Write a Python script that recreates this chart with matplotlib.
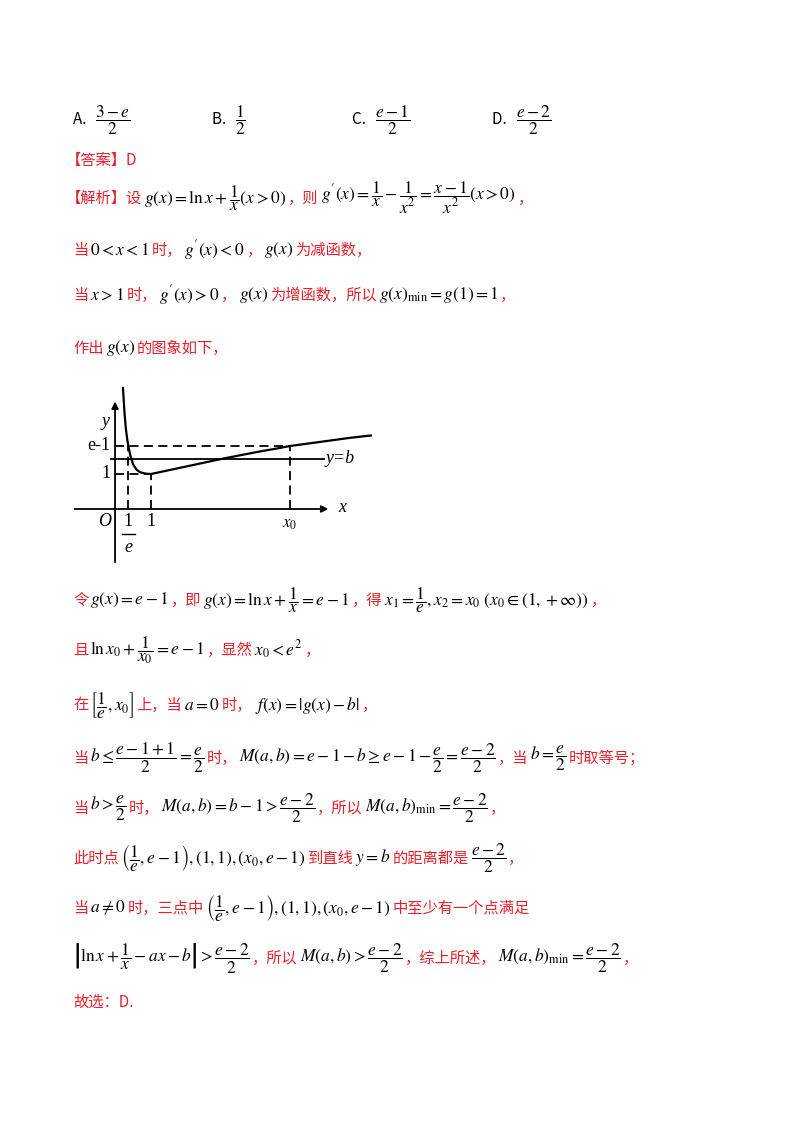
import matplotlib
matplotlib.use("Agg")
import matplotlib.pyplot as plt

plt.rcParams['font.family'] = ['Noto Sans CJK SC', 'DejaVu Sans']
plt.rcParams['mathtext.fontset'] = 'stix'

W, H = 800, 1132
fig = plt.figure(figsize=(8, 11.32), dpi=100)
R = fig.canvas.get_renderer()
RED = '#e8202a'
FS = 11
MFS = 12.5

def line(y, segs, x=73):
    for t, c in segs:
        fs = MFS if t.startswith('$') else FS
        txt = fig.text(x / W, 1 - y / H, t, color=c, fontsize=fs, va='center', ha='left')
        bb = txt.get_window_extent(R)
        x += bb.width + 2

K = 'black'
line(120, [("A.  ", K), (r"$\dfrac{3-e}{2}$", K)], x=73)
line(120, [("B.  ", K), (r"$\dfrac{1}{2}$", K)], x=212)
line(120, [("C.  ", K), (r"$\dfrac{e-1}{2}$", K)], x=352)
line(120, [("D.  ", K), (r"$\dfrac{e-2}{2}$", K)], x=492)
line(160, [("【答案】D", RED)], x=66)
line(198, [("【解析】设", RED), (r"$g(x)=\ln x+\dfrac{1}{x}(x>0)$", K), ("，则", RED),
           (r"$g'(x)=\dfrac{1}{x}-\dfrac{1}{x^2}=\dfrac{x-1}{x^2}(x>0)$", K), ("，", RED)], x=66)
line(250, [("当", RED), (r"$0<x<1$", K), ("时，", RED), (r"$g'(x)<0$", K), ("，", RED),
           (r"$g(x)$", K), ("为减函数，", RED)])
line(295, [("当", RED), (r"$x>1$", K), ("时，", RED), (r"$g'(x)>0$", K), ("，", RED),
           (r"$g(x)$", K), ("为增函数，所以", RED), (r"$g(x)_{\min}=g(1)=1$", K), ("，", RED)])
line(348, [("作出", RED), (r"$g(x)$", K), ("的图象如下，", RED)])
line(600, [("令", RED), (r"$g(x)=e-1$", K), ("，即", RED), (r"$g(x)=\ln x+\dfrac{1}{x}=e-1$", K),
           ("，得", RED), (r"$x_1=\dfrac{1}{e},x_2=x_0\ (x_0\in(1,+\infty))$", K), ("，", RED)])
line(650, [("且", RED), (r"$\ln x_0+\dfrac{1}{x_0}=e-1$", K), ("，显然", RED), (r"$x_0<e^2$", K), ("，", RED)])
line(705, [("在", RED), (r"$\left[\dfrac{1}{e},x_0\right]$", K), ("上，当", RED), (r"$a=0$", K),
           ("时，", RED), (r"$f(x)=|g(x)-b|$", K), ("，", RED)])
line(758, [("当", RED), (r"$b\leq\dfrac{e-1+1}{2}=\dfrac{e}{2}$", K), ("时，", RED),
           (r"$M(a,b)=e-1-b\geq e-1-\dfrac{e}{2}=\dfrac{e-2}{2}$", K), ("，当", RED),
           (r"$b=\dfrac{e}{2}$", K), ("时取等号；", RED)])
line(808, [("当", RED), (r"$b>\dfrac{e}{2}$", K), ("时，", RED),
           (r"$M(a,b)=b-1>\dfrac{e-2}{2}$", K), ("，所以", RED),
           (r"$M(a,b)_{\min}=\dfrac{e-2}{2}$", K), ("，", RED)])
line(858, [("此时点", RED), (r"$\left(\dfrac{1}{e},e-1\right),(1,1),(x_0,e-1)$", K), ("到直线", RED),
           (r"$y=b$", K), ("的距离都是", RED), (r"$\dfrac{e-2}{2}$", K), ("，", RED)])
line(908, [("当", RED), (r"$a\neq 0$", K), ("时，三点中", RED),
           (r"$\left(\dfrac{1}{e},e-1\right),(1,1),(x_0,e-1)$", K), ("中至少有一个点满足", RED)])
line(958, [(r"$\left|\ln x+\dfrac{1}{x}-ax-b\right|>\dfrac{e-2}{2}$", K), ("，所以", RED),
           (r"$M(a,b)>\dfrac{e-2}{2}$", K), ("，综上所述，", RED),
           (r"$M(a,b)_{\min}=\dfrac{e-2}{2}$", K), ("，", RED)])
line(1002, [("故选：D.", RED)])

# ---------- chart ----------
curve_x = [0.22, 0.26, 0.30, 0.34, 0.37, 0.42, 0.50, 0.60, 0.70, 0.85, 1.0, 1.5, 2.0, 2.5, 3.0, 3.5, 4.0, 4.5, 4.86, 5.5, 6.0, 6.5, 7.1]
curve_y = [3.46, 2.80, 2.30, 1.98, 1.80, 1.55, 1.28, 1.12, 1.05, 1.01, 1.00, 1.11, 1.22, 1.33, 1.44, 1.54, 1.64, 1.73, 1.80, 1.89, 1.96, 2.03, 2.10]
x_inv_e, x_one, x_zero = 0.37, 1.0, 4.86
y_em1, y_b, y_one = 1.80, 1.43, 1.0

left, right, bottom_px, top_px = 70, 378, 568.5, 383
ax = fig.add_axes([left / W, 1 - bottom_px / H, (right - left) / W, (bottom_px - top_px) / H])
ax.set_xlim(-1.25, 7.3)
ax.set_ylim(-1.7, 3.6)
ax.axis('off')
lw = 1.3
ax.annotate('', xy=(6.0, 0), xytext=(-1.2, 0),
            arrowprops=dict(arrowstyle='-|>', color='k', lw=lw, mutation_scale=10))
ax.annotate('', xy=(0, 3.15), xytext=(0, -1.6),
            arrowprops=dict(arrowstyle='-|>', color='k', lw=lw, mutation_scale=10))
ax.plot(curve_x, curve_y, color='k', lw=1.6)
ax.plot([-0.1, 5.8], [y_b, y_b], color='k', lw=1.3)
ds = dict(color='k', lw=1.3, ls=(0, (5, 3)))
ax.plot([0, x_zero], [y_em1, y_em1], **ds)
ax.plot([0, x_one], [y_one, y_one], **ds)
ax.plot([x_inv_e, x_inv_e], [0, y_em1], **ds)
ax.plot([x_one, x_one], [0, y_one], **ds)
ax.plot([x_zero, x_zero], [0, y_em1], **ds)
sf = dict(family='Liberation Serif', fontsize=13)
ax.text(-0.15, 2.5, 'y', style='italic', ha='right', va='center', **sf)
ax.text(6.2, 0.05, 'x', style='italic', ha='left', va='center', **sf)
ax.text(-0.12, y_em1, 'e-1', ha='right', va='center', **sf)
ax.text(-0.12, y_one, '1', ha='right', va='center', **sf)
ax.text(-0.12, -0.35, 'O', style='italic', ha='right', va='center', **sf)
ax.text(5.85, y_b, 'y=b', style='italic', ha='left', va='center', **sf)
ax.text(x_one, -0.35, '1', ha='center', va='center', **sf)
ax.text(x_inv_e, -0.35, '1', ha='center', va='center', **sf)
ax.plot([x_inv_e - 0.18, x_inv_e + 0.18], [-0.72, -0.72], color='k', lw=1)
ax.text(x_inv_e, -1.1, 'e', style='italic', ha='center', va='center', **sf)
ax.text(x_zero, -0.4, r'$x_0$', ha='center', va='center', fontsize=12)

fig.savefig('out.png', dpi=100)
